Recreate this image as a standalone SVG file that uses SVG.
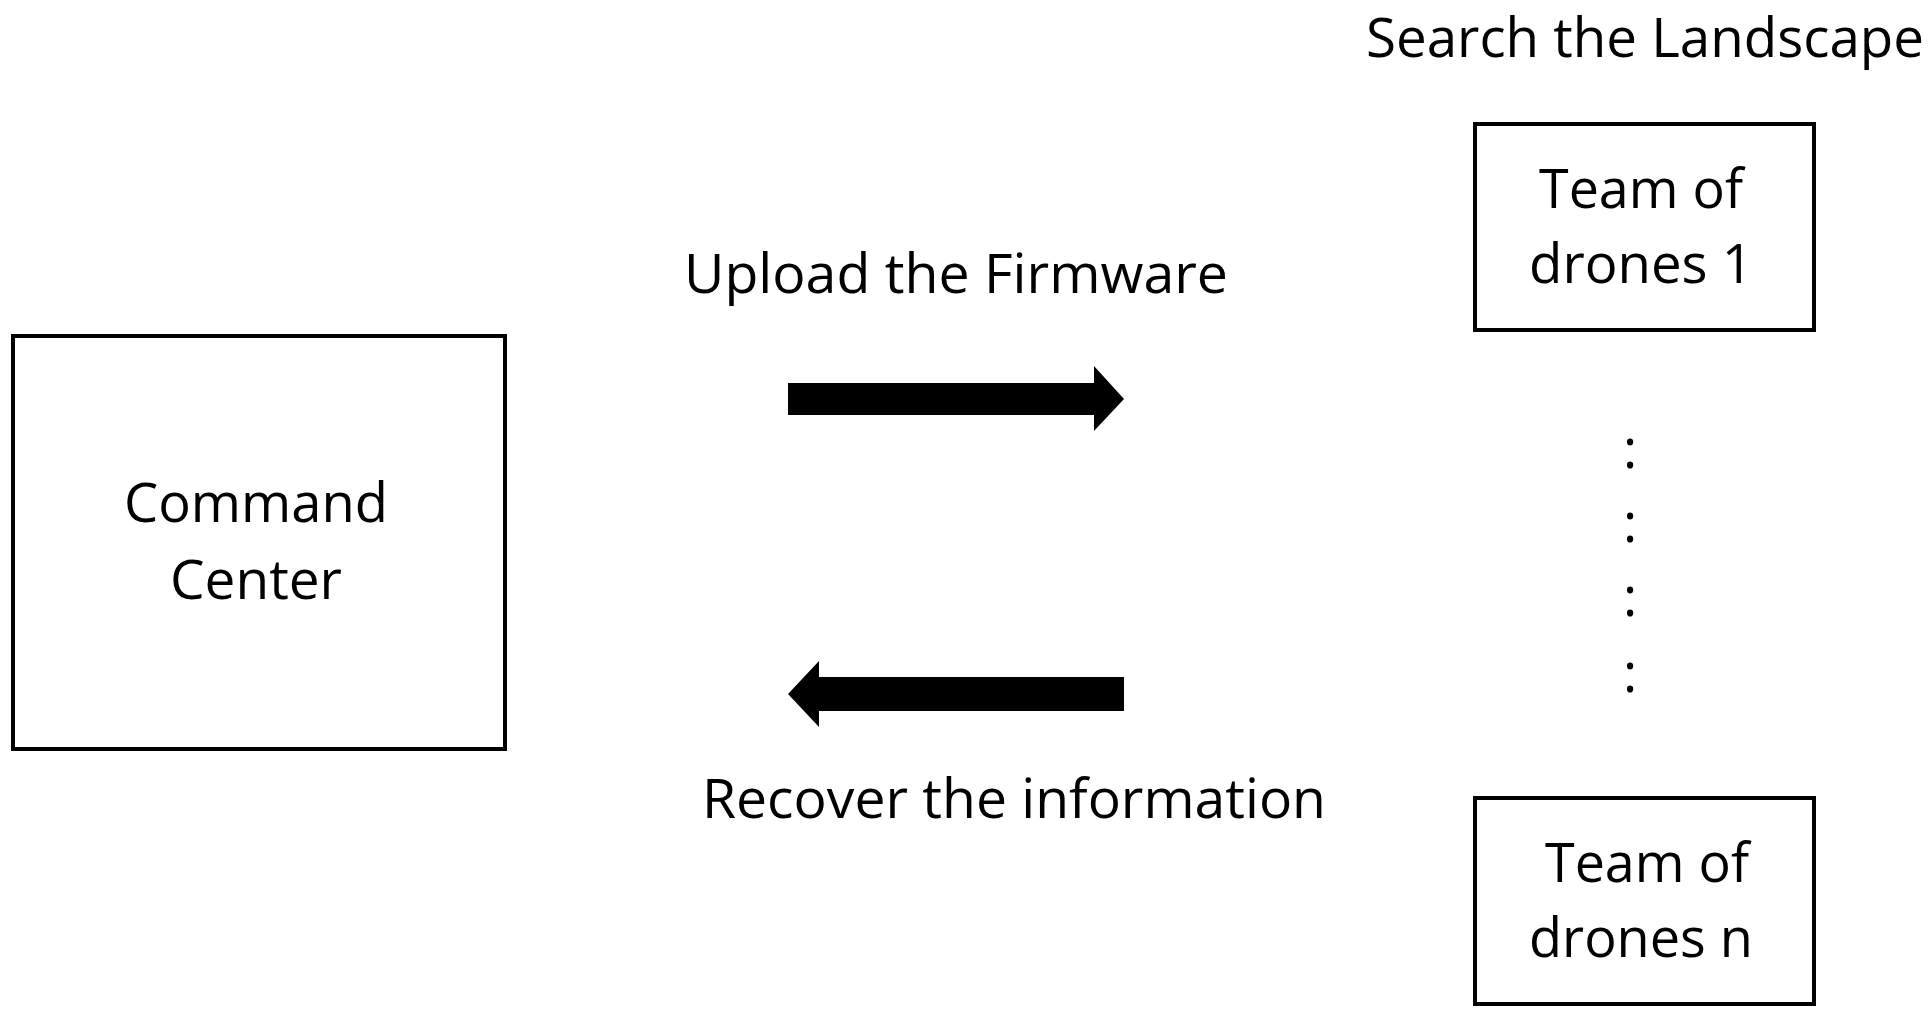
<svg xmlns="http://www.w3.org/2000/svg" width="1931" height="1021" viewBox="0 0 1931 1021">
<style>
.box{fill:#fff;stroke:#000;stroke-width:4}
text{font-family:"Open Sans","Liberation Sans",sans-serif;font-size:54px;fill:#000}
.c{text-anchor:middle}
</style>
<rect width="1931" height="1021" fill="#fff"/>
<g id="command-center"><rect class="box" x="13" y="336" width="492" height="413"/>
<text class="c" x="256" y="522" textLength="264" lengthAdjust="spacingAndGlyphs">Command</text>
<text class="c" x="256" y="599" textLength="172" lengthAdjust="spacingAndGlyphs">Center</text></g>
<g id="team1"><rect class="box" x="1475" y="124" width="339" height="206"/>
<text class="c" x="1641" y="208" textLength="204" lengthAdjust="spacingAndGlyphs">Team of</text>
<text class="c" x="1641" y="283" textLength="224" lengthAdjust="spacingAndGlyphs">drones 1</text></g>
<g id="teamn"><rect class="box" x="1475" y="798" width="339" height="206"/>
<text class="c" x="1647" y="882" textLength="204" lengthAdjust="spacingAndGlyphs">Team of</text>
<text class="c" x="1641" y="957" textLength="224" lengthAdjust="spacingAndGlyphs">drones n</text></g>
<g id="labels">
<text x="1366" y="57" textLength="558" lengthAdjust="spacingAndGlyphs">Search the Landscape</text>
<text x="684" y="293" textLength="544" lengthAdjust="spacingAndGlyphs">Upload the Firmware</text>
<text x="702" y="818" textLength="624" lengthAdjust="spacingAndGlyphs">Recover the information</text>
<text class="c" x="1630" y="468">:</text>
<text class="c" x="1630" y="542">:</text>
<text class="c" x="1630" y="616">:</text>
<text class="c" x="1630" y="692">:</text>
</g>
<g id="connectors">
<path d="M788 383H1094V366L1124 399L1094 431V415H788Z" fill="#000"/>
<path d="M1124 677H819V661L788 694L819 727V711H1124Z" fill="#000"/>
</g>
</svg>
